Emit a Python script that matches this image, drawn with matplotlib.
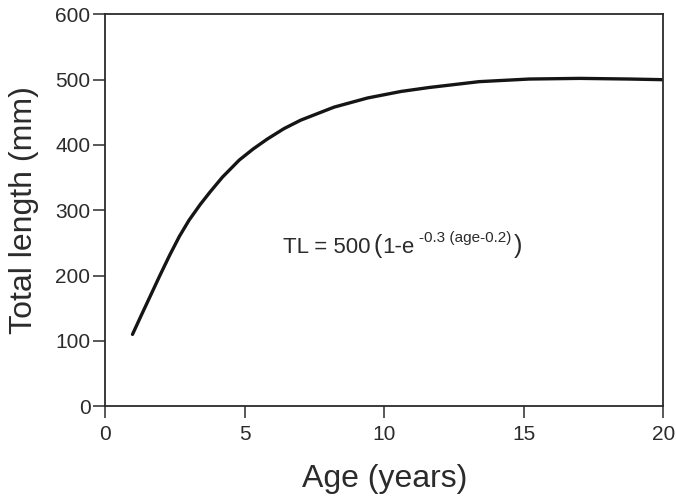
import matplotlib
matplotlib.use("Agg")
import matplotlib.pyplot as plt
from matplotlib.transforms import IdentityTransform

age = [0.97, 1.25, 1.6, 1.95, 2.3, 2.65, 3.0, 3.4, 3.75, 4.2, 4.8, 5.3,
       5.8, 6.4, 7.0, 8.2, 9.4, 10.6, 11.6, 13.4, 15.2, 17.0, 18.8, 20.0]
total_length = [110, 136, 168, 200, 231, 260, 285, 309, 328, 351, 377, 394,
                409, 425, 438, 458, 472, 482, 488, 497, 501, 502, 501, 500]

x_ticks = [0, 5, 10, 15, 20]
y_ticks = [0, 100, 200, 300, 400, 500, 600]

plt.rcParams['font.family'] = ['Liberation Sans', 'DejaVu Sans']
gris = '#2b2b2b'

fig = plt.figure(figsize=(6.76, 4.96), dpi=100)
ax = fig.add_axes([0.156, 0.181, 0.825, 0.790])

ax.plot(age, total_length, color='#151515', lw=2.4,
        solid_capstyle='round', solid_joinstyle='round')

ax.set_xlim(0, 20)
ax.set_ylim(0, 600)
ax.set_xticks(x_ticks)
ax.set_yticks(y_ticks)
ax.tick_params(direction='out', length=8.3, width=1.1, color=gris,
               labelsize=15, labelcolor=gris)
ax.tick_params(axis='x', pad=5.5)
ax.tick_params(axis='y', pad=2.5)
for s in ax.spines.values():
    s.set_linewidth(1.3)
    s.set_color(gris)

ax.set_xlabel('Age (years)', fontsize=23, color=gris)
ax.set_ylabel('Total length (mm)', fontsize=23, color=gris)
ax.xaxis.set_label_coords(0.5, -0.147)
ax.yaxis.set_label_coords(-0.120, 0.5)

# Ecuacion por piezas, una detras de otra
fig.canvas.draw()
x0, y0 = ax.transData.transform((6.36, 234.6))
piezas = [("TL = 500", 16, 0, 0), ("(", 18, 0, 3), ("1-e", 16, 0, 1),
          ("-0.3 (age-0.2)", 11, 11, 4), (")", 18, 0, 2)]
xd = x0
for texto, size, dy, gap in piezas:
    t = ax.text(xd + gap, y0 + dy, texto, fontsize=size, color=gris,
                va='baseline', ha='left', transform=IdentityTransform())
    fig.canvas.draw()
    xd = t.get_window_extent().x1

fig.savefig('out.png', dpi=100)
